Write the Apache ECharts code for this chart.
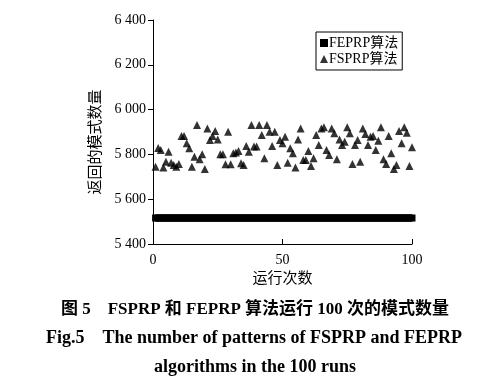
<!DOCTYPE html>
<html><head><meta charset="utf-8">
<script src="https://cdn.jsdelivr.net/npm/echarts@6/dist/echarts.min.js"></script>
<style>html,body{margin:0;padding:0;background:#fff}#c{width:481px;height:384px}</style>
</head><body><div id="c"></div>
<script>
var runs = [];
for (var i = 1; i <= 100; i++) runs.push(i);
var feprp = [5516,5516,5516,5516,5516,5516,5516,5516,5516,5516,5516,5516,5516,5516,5516,5516,5516,5516,5516,5516,
5516,5516,5516,5516,5516,5516,5516,5516,5516,5516,5516,5516,5516,5516,5516,5516,5516,5516,5516,5516,
5516,5516,5516,5516,5516,5516,5516,5516,5516,5516,5516,5516,5516,5516,5516,5516,5516,5516,5516,5516,
5516,5516,5516,5516,5516,5516,5516,5516,5516,5516,5516,5516,5516,5516,5516,5516,5516,5516,5516,5516,
5516,5516,5516,5516,5516,5516,5516,5516,5516,5516,5516,5516,5516,5516,5516,5516,5516,5516,5516,5516];
var fsprp = [5745,5829,5820,5742,5767,5812,5763,5753,5745,5757,
5882,5882,5850,5828,5745,5790,5931,5778,5801,5735,
5916,5864,5882,5904,5867,5801,5801,5756,5901,5756,
5805,5808,5815,5760,5753,5838,5812,5931,5835,5835,
5931,5887,5783,5931,5901,5838,5901,5753,5864,5850,
5879,5763,5828,5805,5742,5867,5916,5775,5775,5815,
5748,5783,5887,5842,5916,5921,5820,5797,5916,5894,
5778,5867,5842,5857,5921,5894,5757,5842,5864,5767,
5916,5891,5842,5879,5882,5820,5861,5921,5778,5757,
5882,5805,5735,5753,5905,5850,5921,5897,5748,5832];
var seriesNames = ['FEPRP算法', 'FSPRP算法'];
var yAxisName = '返回的模式数量';
var xAxisName = '运行次数';
var captionCN = '图 5    FSPRP 和 FEPRP 算法运行 100 次的模式数量';
var captionEN1 = 'Fig.5    The number of patterns of FSPRP and FEPRP';
var captionEN2 = 'algorithms in the 100 runs';

var SERIF = '"Liberation Serif","Times New Roman","Noto Sans CJK SC",serif';
function pair(xs, ys){ return xs.map(function(x,i){ return [x, ys[i]]; }); }
var chart = echarts.init(document.getElementById('c'), null, {renderer:'canvas'});
chart.setOption({
  backgroundColor:'#fff',
  animation:false,
  textStyle:{fontFamily:SERIF, color:'#000'},
  grid:{left:153, right:69, top:20, bottom:140, containLabel:false},
  legend:{
    left:316, top:32, orient:'vertical', padding:[4,4,4,4], itemGap:2,
    borderColor:'#000', borderWidth:1, backgroundColor:'#fff',
    itemWidth:8, itemHeight:8,
    textStyle:{fontFamily:SERIF, fontSize:14, color:'#000', padding:[0,0,0,-4]},
    data:[{name:seriesNames[0], icon:'rect'},{name:seriesNames[1], icon:'triangle'}]
  },
  xAxis:{
    type:'value', min:0, max:100, interval:50,
    name:xAxisName, nameLocation:'middle', nameGap:28,
    nameTextStyle:{fontFamily:SERIF, fontSize:15, color:'#000'},
    axisLine:{lineStyle:{color:'#000', width:1}},
    axisTick:{inside:true, length:5, lineStyle:{color:'#000'}},
    axisLabel:{fontFamily:SERIF, fontSize:14, color:'#000', margin:9},
    splitLine:{show:false}
  },
  yAxis:{
    type:'value', min:5400, max:6400, interval:200,
    name:yAxisName, nameLocation:'middle', nameGap:43, nameRotate:90,
    nameTextStyle:{fontFamily:SERIF, fontSize:15, color:'#000', padding:[0,20,0,0]},
    axisLine:{show:true, lineStyle:{color:'#000', width:1}},
    axisTick:{show:true, inside:false, length:5, lineStyle:{color:'#000'}},
    axisLabel:{fontFamily:SERIF, fontSize:14, color:'#000', margin:7,
      formatter:function(v){ return String(v).replace(/(\d)(\d{3})$/, '$1 $2'); }},
    splitLine:{show:false}
  },
  series:[
    {name:seriesNames[0], type:'line', data:pair(runs, feprp), symbol:'rect', symbolSize:7,
     clip:false, itemStyle:{color:'#000'}, lineStyle:{color:'#000', width:7}},
    {name:seriesNames[1], type:'scatter', data:pair(runs, fsprp), symbol:'triangle', symbolSize:8,
     itemStyle:{color:'#000'}}
  ],
  graphic:[
    {type:'text', x:255, y:310, style:{text:captionCN, font:'bold 17px '+SERIF, fill:'#000', align:'center', verticalAlign:'middle'}},
    {type:'text', x:254, y:338, style:{text:captionEN1, font:'bold 18px '+SERIF, fill:'#000', align:'center', verticalAlign:'middle'}},
    {type:'text', x:255, y:367, style:{text:captionEN2, font:'bold 18px '+SERIF, fill:'#000', align:'center', verticalAlign:'middle'}}
  ]
});
</script></body></html>
